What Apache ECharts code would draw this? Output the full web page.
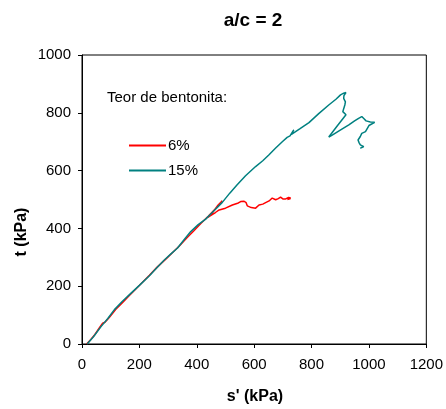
<!DOCTYPE html>
<html>
<head>
<meta charset="utf-8">
<script src="https://cdn.jsdelivr.net/npm/echarts@6/dist/echarts.min.js"></script>
<style>
  html, body { margin: 0; padding: 0; background: #fff; }
  #chart { width: 446px; height: 409px; }
</style>
</head>
<body>
<div id="chart"></div>
<script>
// Stress paths s' vs t for two bentonite contents (a/c = 2)
const titleText = 'a/c = 2';
const xName = "s' (kPa)";
const yName = 't (kPa)';
const legendTitle = 'Teor de bentonita:';
const seriesNames = ['6%', '15%'];

// 6% bentonite
const sRed = [16, 30, 45, 62, 72, 80, 95, 118, 140, 160, 185, 210, 235, 262, 290, 315, 340, 365, 390, 415, 440, 465, 480, 489, 472, 455, 437, 448, 465, 478, 500, 524, 545, 553, 565, 572, 576, 590, 605, 617, 630, 640, 652, 663, 669, 675, 684, 692, 700, 710, 720, 727, 716, 727];
const tRed = [0, 15, 33, 58, 72, 75, 92, 120, 142, 163, 188, 213, 238, 266, 292, 316, 340, 367, 392, 418, 442, 468, 485, 496, 478, 455, 437, 444, 455, 464, 470, 481, 488, 493, 494, 489, 478, 472, 470, 481, 484, 489, 495, 505, 510, 499, 503, 508, 502, 502, 507, 505, 500, 503];

// 15% bentonite
const sTeal = [18, 40, 67, 90, 113, 140, 171, 200, 235, 260, 286, 310, 333, 355, 379, 405, 431, 454, 489, 515, 540, 570, 605, 630, 651, 675, 698, 715, 725, 738, 730, 760, 791, 825, 860, 885, 901, 912, 916, 920, 913, 912, 918, 916, 909, 913, 920, 890, 860, 872, 900, 930, 950, 964, 975, 982, 990, 1005, 1020, 1000, 988, 975, 970, 962, 966, 970, 982, 975, 970];
const tTeal = [0, 25, 61, 88, 119, 147, 176, 203, 236, 263, 290, 312, 332, 360, 389, 413, 432, 455, 490, 522, 550, 582, 614, 634, 654, 678, 700, 715, 720, 741, 725, 745, 766, 797, 827, 847, 862, 868, 873, 870, 860, 850, 838, 827, 804, 798, 793, 755, 716, 723, 740, 758, 772, 781, 787, 780, 772, 768, 767, 756, 735, 729, 718, 706, 696, 689, 683, 680, 677];

const zip = (xs, ys) => xs.map((x, i) => [x, ys[i]]);
const plain = v => String(v);

const font = 'Liberation Sans, Arial, sans-serif';
const chart = echarts.init(document.getElementById('chart'), null, { renderer: 'canvas' });

chart.setOption({
  animation: false,
  backgroundColor: '#ffffff',
  textStyle: { fontFamily: font, color: '#000' },
  title: {
    text: titleText,
    left: 248,
    textAlign: 'center',
    top: 6,
    textStyle: { fontFamily: font, fontSize: 19, fontWeight: 'bold', color: '#000' }
  },
  grid: {
    left: 82, right: 18, top: 55, bottom: 65,
    show: true, borderColor: '#000', borderWidth: 1, backgroundColor: 'transparent'
  },
  legend: {
    orient: 'vertical',
    left: 123,
    top: 133,
    itemWidth: 37,
    itemHeight: 14,
    itemGap: 10,
    itemStyle: { opacity: 0 },
    textStyle: { fontFamily: font, fontSize: 15, color: '#000', padding: [0, 0, 0, -3] },
    data: seriesNames
  },
  xAxis: {
    type: 'value',
    min: 0, max: 1200, interval: 200,
    axisLine: { show: true, lineStyle: { color: '#000', width: 1 } },
    axisTick: { show: true, inside: false, length: 4, lineStyle: { color: '#000' } },
    axisLabel: { color: '#000', fontFamily: font, fontSize: 15, margin: 13, formatter: plain },
    splitLine: { show: false }
  },
  yAxis: {
    type: 'value',
    min: 0, max: 1000, interval: 200,
    axisLine: { show: true, lineStyle: { color: '#000', width: 1 } },
    axisTick: { show: true, inside: false, length: 4, lineStyle: { color: '#000' } },
    axisLabel: { color: '#000', fontFamily: font, fontSize: 15, margin: 11, formatter: plain },
    splitLine: { show: false }
  },
  graphic: [
    {
      type: 'text', left: 107, top: 90,
      style: { text: legendTitle, fill: '#000', font: '15px ' + font }
    },
    {
      type: 'text', x: 255, y: 397,
      style: { text: xName, fill: '#000', font: 'bold 16px ' + font, textAlign: 'center', textVerticalAlign: 'middle' }
    },
    {
      type: 'text', x: 22, y: 232, rotation: Math.PI / 2,
      style: { text: yName, fill: '#000', font: 'bold 16px ' + font, textAlign: 'center', textVerticalAlign: 'middle' }
    }
  ],
  series: [
    {
      name: seriesNames[0],
      type: 'line',
      data: zip(sRed, tRed),
      symbol: 'none',
      lineStyle: { color: '#ff0000', width: 1.5 },
      itemStyle: { color: '#ff0000' },
      z: 2
    },
    {
      name: seriesNames[1],
      type: 'line',
      data: zip(sTeal, tTeal),
      symbol: 'none',
      lineStyle: { color: '#008080', width: 1.5 },
      itemStyle: { color: '#008080' },
      z: 3
    }
  ]
});
</script>
</body>
</html>
